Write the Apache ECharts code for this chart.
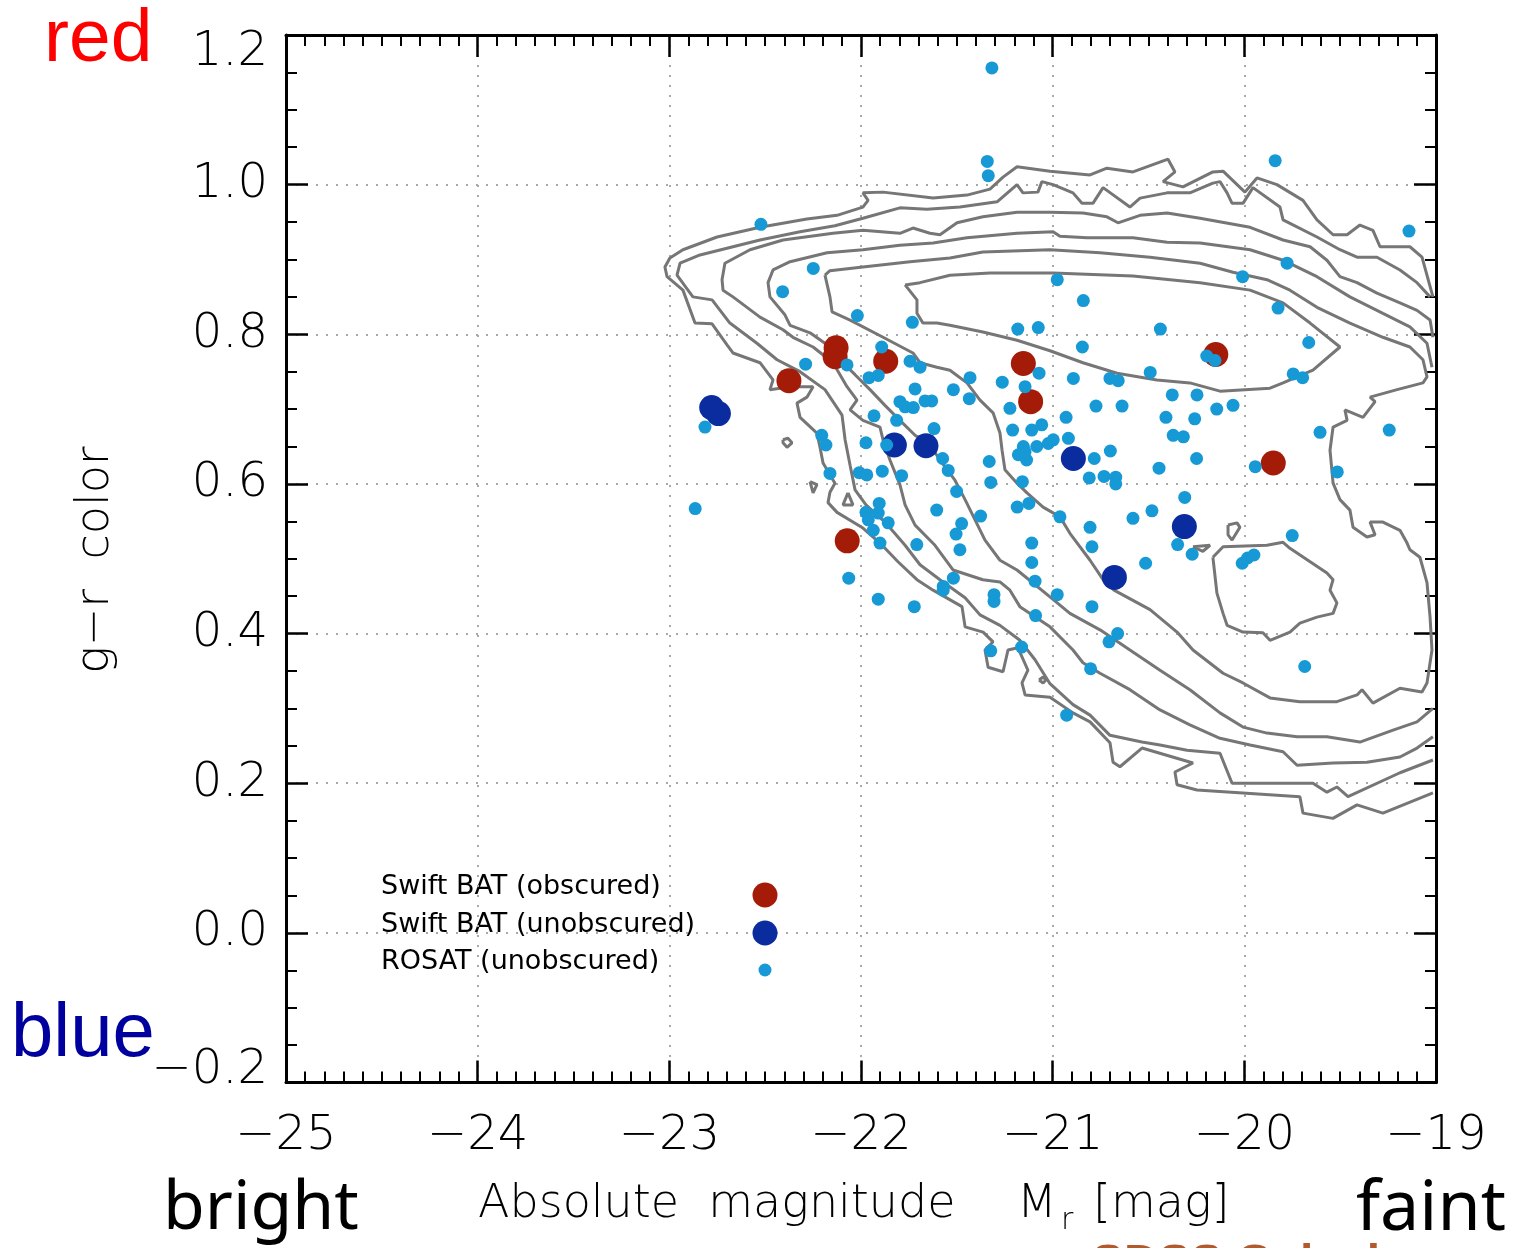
<!DOCTYPE html>
<html>
<head>
<meta charset="utf-8">
<script src="https://cdn.jsdelivr.net/npm/echarts@6/dist/echarts.min.js"></script>
<style>
  html, body { margin: 0; padding: 0; background: #ffffff; }
  #chart { width: 1517px; height: 1248px; }
</style>
</head>
<body>
<div id="chart"></div>
<script>
// Axis ticks: absolute magnitude M_r and g-r colour
const magTicks = [-25, -24, -23, -22, -21, -20, -19];
const colorTicks = [-0.2, 0.0, 0.2, 0.4, 0.6, 0.8, 1.0, 1.2];

// Swift BAT AGN hosts, obscured  [M_r, g-r]
const swiftObscured = [
  [-22.376, 0.738], [-22.130, 0.782], [-22.135, 0.770], [-21.871, 0.764],
  [-21.153, 0.761], [-21.115, 0.710], [-20.149, 0.773], [-19.849, 0.628],
  [-22.072, 0.524]
];

// Swift BAT AGN hosts, unobscured  [M_r, g-r]
const swiftUnobscured = [
  [-22.779, 0.702], [-22.744, 0.694], [-21.826, 0.652], [-21.661, 0.651],
  [-20.892, 0.634], [-20.313, 0.543], [-20.678, 0.475]
];

// ROSAT AGN hosts, unobscured  [M_r, g-r]
const rosatUnobscured = [
  [-21.317, 1.156], [-21.341, 1.031], [-21.336, 1.012], [-22.522, 0.947], [-22.249, 0.888],
  [-22.409, 0.857], [-20.976, 0.873], [-20.840, 0.845], [-22.019, 0.825], [-21.732, 0.816],
  [-21.182, 0.807], [-21.075, 0.809], [-20.845, 0.783], [-21.892, 0.783], [-22.289, 0.760],
  [-22.073, 0.759], [-21.744, 0.764], [-21.692, 0.756], [-21.958, 0.742], [-21.910, 0.745],
  [-21.431, 0.742], [-21.263, 0.736], [-21.071, 0.748], [-20.892, 0.741], [-21.144, 0.730],
  [-21.718, 0.727], [-21.518, 0.726], [-21.435, 0.714], [-21.797, 0.710], [-21.770, 0.703],
  [-21.727, 0.702], [-21.666, 0.711], [-21.631, 0.711], [-21.223, 0.701], [-20.774, 0.704],
  [-21.932, 0.691], [-21.814, 0.685], [-20.930, 0.689], [-21.619, 0.674], [-21.209, 0.672],
  [-21.109, 0.672], [-21.057, 0.679], [-22.814, 0.676], [-20.918, 0.661], [-22.205, 0.665],
  [-22.183, 0.652], [-21.974, 0.655], [-21.866, 0.652], [-21.153, 0.650], [-21.179, 0.639],
  [-21.136, 0.632], [-21.144, 0.643], [-21.083, 0.650], [-21.023, 0.654], [-20.997, 0.659],
  [-21.574, 0.634], [-21.545, 0.618], [-21.331, 0.630], [-20.783, 0.634], [-22.162, 0.614],
  [-22.009, 0.615], [-21.970, 0.612], [-21.889, 0.617], [-21.788, 0.611], [-21.323, 0.602],
  [-21.158, 0.603], [-20.809, 0.608], [-21.501, 0.590], [-19.839, 1.032], [-19.141, 0.938],
  [-19.777, 0.895], [-20.009, 0.877], [-19.824, 0.835], [-20.438, 0.807], [-19.664, 0.789],
  [-20.196, 0.771], [-20.153, 0.765], [-20.701, 0.741], [-20.658, 0.738], [-20.491, 0.749],
  [-19.745, 0.747], [-19.696, 0.742], [-20.376, 0.719], [-20.247, 0.719], [-20.638, 0.704],
  [-20.144, 0.700], [-20.059, 0.705], [-20.409, 0.689], [-20.259, 0.687], [-20.371, 0.665],
  [-20.318, 0.663], [-19.605, 0.669], [-19.244, 0.672], [-20.699, 0.644], [-20.249, 0.634],
  [-20.445, 0.621], [-19.943, 0.623], [-19.515, 0.616], [-20.732, 0.610], [-20.671, 0.609],
  [-20.671, 0.600], [-20.311, 0.582], [-20.962, 0.556], [-20.482, 0.564], [-20.581, 0.554],
  [-20.805, 0.542], [-20.795, 0.516], [-20.348, 0.519], [-20.272, 0.506], [-20.515, 0.494],
  [-20.011, 0.494], [-19.983, 0.501], [-19.950, 0.505], [-19.750, 0.531], [-20.976, 0.452],
  [-20.795, 0.436], [-20.661, 0.400], [-20.706, 0.389], [-19.685, 0.356], [-20.802, 0.353],
  [-20.927, 0.291], [-22.865, 0.567], [-21.905, 0.574], [-21.974, 0.562], [-21.910, 0.561],
  [-21.962, 0.552], [-21.936, 0.538], [-21.858, 0.548], [-21.605, 0.565], [-21.475, 0.547],
  [-21.504, 0.533], [-21.376, 0.557], [-21.484, 0.512], [-21.709, 0.519], [-21.901, 0.521],
  [-21.185, 0.569], [-21.124, 0.574], [-21.109, 0.521], [-21.109, 0.495], [-21.092, 0.470],
  [-21.518, 0.474], [-21.571, 0.463], [-21.571, 0.458], [-21.306, 0.452], [-21.306, 0.443],
  [-21.089, 0.424], [-22.064, 0.474], [-21.910, 0.446], [-21.722, 0.436], [-21.323, 0.377],
  [-21.162, 0.382]
];

// SDSS galaxy density contours, outermost level first  [M_r, g-r]
const contourLevel1 = [
  [-19.016, 0.850], [-19.073, 0.903], [-19.136, 0.917], [-19.292, 0.917], [-19.329, 0.939],
  [-19.397, 0.946], [-19.464, 0.933], [-19.537, 0.933], [-19.621, 0.953], [-19.694, 0.979],
  [-19.830, 1.000], [-19.934, 1.009], [-19.997, 0.990], [-20.111, 1.018], [-20.164, 1.017],
  [-20.320, 0.997], [-20.424, 1.004], [-20.362, 1.017], [-20.398, 1.034], [-20.581, 1.017],
  [-20.717, 1.022], [-20.805, 1.013], [-21.014, 1.018], [-21.186, 1.024], [-21.259, 1.010],
  [-21.327, 0.994], [-21.447, 0.986], [-21.624, 0.982], [-21.885, 0.990], [-21.990, 0.989],
  [-21.963, 0.979], [-21.990, 0.970], [-22.125, 0.959], [-22.282, 0.954], [-22.527, 0.943],
  [-22.751, 0.930], [-22.929, 0.913], [-22.997, 0.902], [-23.023, 0.890], [-23.012, 0.877],
  [-22.929, 0.859], [-22.866, 0.815], [-22.777, 0.814], [-22.699, 0.786], [-22.668, 0.775],
  [-22.527, 0.762], [-22.459, 0.739], [-22.475, 0.726], [-22.370, 0.730], [-22.250, 0.730],
  [-22.282, 0.716], [-22.334, 0.708], [-22.318, 0.689], [-22.230, 0.668], [-22.214, 0.649],
  [-22.198, 0.628], [-22.136, 0.601], [-22.162, 0.589], [-22.172, 0.575], [-22.125, 0.562],
  [-21.990, 0.541], [-21.901, 0.521], [-21.807, 0.496], [-21.708, 0.472], [-21.624, 0.458],
  [-21.473, 0.436], [-21.457, 0.409], [-21.363, 0.402], [-21.311, 0.389], [-21.353, 0.378],
  [-21.337, 0.355], [-21.259, 0.349], [-21.233, 0.378], [-21.181, 0.381], [-21.129, 0.351],
  [-21.160, 0.334], [-21.144, 0.318], [-21.014, 0.315], [-20.894, 0.294], [-20.805, 0.282],
  [-20.701, 0.254], [-20.685, 0.228], [-20.649, 0.222], [-20.534, 0.247], [-20.268, 0.227],
  [-20.362, 0.215], [-20.351, 0.198], [-20.247, 0.191], [-19.710, 0.182], [-19.694, 0.160],
  [-19.538, 0.153], [-19.412, 0.171], [-19.277, 0.160], [-19.016, 0.187]
];

const contourLevel2 = [
  [-19.031, 0.850], [-19.099, 0.869], [-19.188, 0.886], [-19.308, 0.903], [-19.412, 0.903],
  [-19.501, 0.913], [-19.621, 0.930], [-19.798, 0.953], [-19.814, 0.970], [-19.955, 0.996],
  [-20.007, 0.975], [-20.064, 0.975], [-20.090, 0.989], [-20.127, 1.004], [-20.164, 1.002],
  [-20.284, 0.989], [-20.403, 0.989], [-20.544, 0.982], [-20.597, 0.970], [-20.737, 0.996],
  [-20.790, 0.975], [-20.847, 0.975], [-20.894, 0.989], [-20.998, 1.000], [-21.056, 1.004],
  [-21.077, 0.990], [-21.155, 0.989], [-21.186, 1.000], [-21.290, 0.977], [-21.484, 0.970],
  [-21.656, 0.967], [-21.797, 0.969], [-21.990, 0.955], [-22.136, 0.945], [-22.318, 0.937],
  [-22.527, 0.926], [-22.668, 0.917], [-22.840, 0.906], [-22.944, 0.895], [-22.960, 0.879],
  [-22.877, 0.850], [-22.777, 0.846], [-22.684, 0.815], [-22.543, 0.788], [-22.438, 0.766],
  [-22.318, 0.750], [-22.188, 0.726], [-22.099, 0.692], [-22.083, 0.659], [-22.057, 0.625],
  [-22.031, 0.592], [-21.974, 0.572], [-21.875, 0.549], [-21.770, 0.518], [-21.692, 0.492],
  [-21.588, 0.472], [-21.457, 0.448], [-21.379, 0.425], [-21.275, 0.411], [-21.171, 0.391],
  [-21.092, 0.365], [-21.014, 0.333], [-20.894, 0.305], [-20.805, 0.291], [-20.701, 0.264],
  [-20.534, 0.255], [-20.440, 0.251], [-20.299, 0.244], [-20.127, 0.240], [-20.064, 0.200],
  [-19.642, 0.200], [-19.569, 0.188], [-19.517, 0.195], [-19.459, 0.182], [-19.188, 0.214],
  [-19.016, 0.231]
];

const contourLevel3 = [
  [-19.016, 0.796], [-19.031, 0.819], [-19.099, 0.832], [-19.188, 0.842], [-19.308, 0.855],
  [-19.412, 0.869], [-19.501, 0.877], [-19.569, 0.899], [-19.657, 0.917], [-19.798, 0.926],
  [-19.970, 0.943], [-20.231, 0.955], [-20.403, 0.962], [-20.544, 0.959], [-20.659, 0.949],
  [-20.717, 0.957], [-20.842, 0.962], [-21.014, 0.963], [-21.186, 0.963], [-21.364, 0.957],
  [-21.499, 0.949], [-21.588, 0.933], [-21.640, 0.935], [-21.729, 0.942], [-21.797, 0.935],
  [-21.990, 0.939], [-22.146, 0.935], [-22.407, 0.926], [-22.579, 0.913], [-22.710, 0.895],
  [-22.725, 0.873], [-22.720, 0.859], [-22.668, 0.850], [-22.527, 0.823], [-22.407, 0.806],
  [-22.355, 0.796], [-22.250, 0.783], [-22.146, 0.762], [-22.073, 0.730], [-22.021, 0.712],
  [-22.057, 0.699], [-21.990, 0.685], [-21.901, 0.676], [-21.885, 0.659], [-21.849, 0.632],
  [-21.797, 0.599], [-21.770, 0.572], [-21.718, 0.545], [-21.614, 0.518], [-21.520, 0.485],
  [-21.364, 0.472], [-21.275, 0.469], [-21.223, 0.458], [-21.171, 0.436], [-21.014, 0.409],
  [-20.894, 0.378], [-20.842, 0.361], [-20.753, 0.347], [-20.597, 0.325], [-20.440, 0.298],
  [-20.284, 0.278], [-20.127, 0.260], [-19.970, 0.251], [-19.798, 0.242], [-19.725, 0.224],
  [-19.537, 0.227], [-19.360, 0.228], [-19.188, 0.235], [-19.099, 0.247], [-19.016, 0.262]
];

const contourLevel4 = [
  [-19.021, 0.756], [-19.047, 0.788], [-19.136, 0.810], [-19.277, 0.828], [-19.449, 0.850],
  [-19.621, 0.877], [-19.798, 0.899], [-19.970, 0.913], [-20.231, 0.922], [-20.403, 0.923],
  [-20.581, 0.929], [-20.821, 0.929], [-20.962, 0.931], [-20.998, 0.937], [-21.186, 0.935],
  [-21.447, 0.929], [-21.624, 0.922], [-21.797, 0.919], [-21.990, 0.913], [-22.177, 0.909],
  [-22.370, 0.897], [-22.459, 0.886], [-22.485, 0.869], [-22.475, 0.850], [-22.397, 0.826],
  [-22.370, 0.812], [-22.266, 0.802], [-22.177, 0.786], [-22.110, 0.766], [-22.031, 0.746],
  [-21.953, 0.726], [-21.875, 0.705], [-21.797, 0.685], [-21.718, 0.665], [-21.640, 0.652],
  [-21.588, 0.632], [-21.510, 0.605], [-21.457, 0.579], [-21.405, 0.552], [-21.353, 0.525],
  [-21.275, 0.498], [-21.186, 0.485], [-21.014, 0.449], [-20.910, 0.427], [-20.753, 0.405],
  [-20.597, 0.378], [-20.440, 0.351], [-20.284, 0.325], [-20.127, 0.294], [-20.007, 0.275],
  [-19.882, 0.267], [-19.725, 0.262], [-19.569, 0.262], [-19.397, 0.255], [-19.224, 0.271],
  [-19.099, 0.282], [-19.016, 0.300]
];

const contourLevel5 = [
  [-22.188, 0.879], [-22.162, 0.850], [-22.151, 0.830], [-22.057, 0.819], [-21.885, 0.796],
  [-21.729, 0.775], [-21.692, 0.762], [-21.604, 0.756], [-21.536, 0.752], [-21.447, 0.735],
  [-21.379, 0.712], [-21.311, 0.695], [-21.275, 0.668], [-21.264, 0.645], [-21.249, 0.619],
  [-21.186, 0.601], [-21.134, 0.588], [-21.050, 0.569], [-20.962, 0.556], [-20.910, 0.534],
  [-20.805, 0.498], [-20.737, 0.472], [-20.680, 0.458], [-20.492, 0.432], [-20.351, 0.402],
  [-20.268, 0.378], [-20.111, 0.347], [-20.007, 0.334], [-19.866, 0.314], [-19.710, 0.309],
  [-19.517, 0.309], [-19.412, 0.318], [-19.386, 0.325], [-19.329, 0.307], [-19.188, 0.327],
  [-19.073, 0.322], [-19.047, 0.334], [-19.021, 0.378], [-19.031, 0.422], [-19.047, 0.468],
  [-19.084, 0.502], [-19.136, 0.512], [-19.151, 0.521], [-19.188, 0.538], [-19.277, 0.549],
  [-19.344, 0.549], [-19.318, 0.532], [-19.360, 0.529], [-19.433, 0.542], [-19.449, 0.565],
  [-19.501, 0.579], [-19.537, 0.601], [-19.553, 0.645], [-19.537, 0.676], [-19.464, 0.685],
  [-19.475, 0.699], [-19.381, 0.689], [-19.318, 0.710], [-19.344, 0.716], [-19.203, 0.726],
  [-19.068, 0.735], [-19.047, 0.743], [-19.068, 0.766], [-19.136, 0.783], [-19.277, 0.796],
  [-19.449, 0.815], [-19.621, 0.836], [-19.762, 0.859], [-19.882, 0.873], [-20.059, 0.883],
  [-20.231, 0.895], [-20.492, 0.903], [-20.753, 0.909], [-21.014, 0.913], [-21.364, 0.910],
  [-21.536, 0.902], [-21.744, 0.897], [-21.990, 0.890], [-22.162, 0.885], [-22.188, 0.879]
];

const contourLevel6 = [
  [-21.770, 0.866], [-21.692, 0.869], [-21.536, 0.879], [-21.327, 0.882], [-20.998, 0.882],
  [-20.581, 0.878], [-20.231, 0.869], [-19.970, 0.859], [-19.798, 0.842], [-19.657, 0.815],
  [-19.501, 0.783], [-19.642, 0.752], [-19.798, 0.735], [-19.866, 0.728], [-20.127, 0.724],
  [-20.284, 0.735], [-20.456, 0.739], [-20.664, 0.748], [-20.842, 0.762], [-21.014, 0.778],
  [-21.186, 0.792], [-21.364, 0.803], [-21.536, 0.812], [-21.604, 0.815], [-21.677, 0.815],
  [-21.708, 0.828], [-21.708, 0.846], [-21.770, 0.866]
];

// Isolated closed contour pieces
const contourBlueBlob = [
  [-20.164, 0.502], [-20.111, 0.516], [-19.882, 0.518], [-19.798, 0.522], [-19.762, 0.514],
  [-19.569, 0.481], [-19.537, 0.472], [-19.553, 0.458], [-19.517, 0.441], [-19.537, 0.427],
  [-19.621, 0.422], [-19.710, 0.414], [-19.762, 0.402], [-19.866, 0.391], [-19.903, 0.401],
  [-20.007, 0.402], [-20.090, 0.411], [-20.111, 0.427], [-20.143, 0.454], [-20.164, 0.502]
];
const contourIslandA = [[-20.085, 0.545], [-20.038, 0.548], [-20.023, 0.542], [-20.064, 0.525], [-20.085, 0.532], [-20.085, 0.545]];
const contourIslandB = [[-20.268, 0.516], [-20.179, 0.518], [-20.216, 0.510], [-20.268, 0.516]];
const contourIslandC = [[-22.266, 0.603], [-22.230, 0.599], [-22.250, 0.588], [-22.266, 0.603]];
const contourIslandD = [[-22.068, 0.588], [-22.042, 0.572], [-22.094, 0.572], [-22.068, 0.588]];
const contourIslandE = [[-22.407, 0.659], [-22.381, 0.661], [-22.360, 0.655], [-22.386, 0.649], [-22.407, 0.655], [-22.407, 0.659]];
const contourIslandF = [[-21.071, 0.338], [-21.050, 0.342], [-21.035, 0.338], [-21.050, 0.334], [-21.071, 0.338]];

// ---------------------------------------------------------------------------
const COL_OBSCURED = '#a41b07';
const COL_UNOBSCURED = '#0a2c9f';
const COL_ROSAT = '#1699d5';
const COL_CONTOUR = '#767676';
const TICK_FONT = '"DejaVu Sans", "Liberation Sans", sans-serif';
const TICK_WEIGHT = 300;
const LABEL_COLOR = '#000000';

function signed(v, digits) {
  if (Math.abs(v) < 1e-9) v = 0;
  const s = Math.abs(v).toFixed(digits);
  return (v < 0 ? '\u2212' : '') + s;
}

function contourSeries(data) {
  return {
    type: 'line',
    data: data,
    xAxisIndex: 0,
    yAxisIndex: 0,
    showSymbol: false,
    symbol: 'none',
    silent: true,
    clip: true,
    z: 2,
    lineStyle: { color: COL_CONTOUR, width: 3 },
    animation: false
  };
}

const frameTick = { show: true, inside: true, length: 22, lineStyle: { color: '#000', width: 2.5 } };
const frameLine = { show: true, onZero: false, lineStyle: { color: '#000', width: 3 } };
const gridDots = { show: true, lineStyle: { color: '#a8a8a8', width: 2, type: [2, 8] } };

const magRange = { min: magTicks[0], max: magTicks[magTicks.length - 1], interval: magTicks[1] - magTicks[0] };
const colRange = { min: colorTicks[0], max: colorTicks[colorTicks.length - 1], interval: 0.2 };

const tickText = { fontSize: 48, fontFamily: TICK_FONT, fontWeight: TICK_WEIGHT, color: LABEL_COLOR };

const chart = echarts.init(document.getElementById('chart'), null, { renderer: 'canvas' });

const option = {
  animation: false,
  backgroundColor: '#ffffff',
  grid: { left: 286, top: 35, width: 1150, height: 1047.5, containLabel: false },
  xAxis: [
    {
      type: 'value', position: 'bottom', ...magRange,
      axisLine: frameLine, axisTick: frameTick,
      minorTick: { show: true, splitNumber: 10, length: 11, lineStyle: { color: '#000', width: 2 } },
      splitLine: gridDots,
      axisLabel: Object.assign({
        show: true, margin: 30, showMinLabel: true, showMaxLabel: true,
        formatter: (v) => signed(v, 0)
      }, tickText)
    },
    {
      type: 'value', position: 'top', ...magRange,
      axisLine: frameLine, axisTick: frameTick,
      minorTick: { show: true, splitNumber: 10, length: 11, lineStyle: { color: '#000', width: 2 } },
      splitLine: { show: false }, axisLabel: { show: false }
    }
  ],
  yAxis: [
    {
      type: 'value', position: 'left', ...colRange,
      axisLine: frameLine, axisTick: frameTick,
      minorTick: { show: true, splitNumber: 4, length: 11, lineStyle: { color: '#000', width: 2 } },
      splitLine: gridDots,
      axisLabel: Object.assign({
        show: true, margin: 18, showMinLabel: true, showMaxLabel: true,
        // the end labels sit just inside the frame
        formatter: (v) => {
          const s = signed(v, 1);
          if (Math.abs(v - colRange.max) < 1e-6) return '{hi|' + s + '}';
          if (Math.abs(v - colRange.min) < 1e-6) return '{lo|' + s + '}';
          return s;
        },
        rich: {
          hi: Object.assign({ padding: [36, 0, 0, 0] }, tickText),
          lo: Object.assign({ padding: [0, 0, 24, 0] }, tickText)
        }
      }, tickText)
    },
    {
      type: 'value', position: 'right', ...colRange,
      axisLine: frameLine, axisTick: frameTick,
      minorTick: { show: true, splitNumber: 4, length: 11, lineStyle: { color: '#000', width: 2 } },
      splitLine: { show: false }, axisLabel: { show: false }
    }
  ],
  series: [
    contourSeries(contourLevel1),
    contourSeries(contourLevel2),
    contourSeries(contourLevel3),
    contourSeries(contourLevel4),
    contourSeries(contourLevel5),
    contourSeries(contourLevel6),
    contourSeries(contourBlueBlob),
    contourSeries(contourIslandA),
    contourSeries(contourIslandB),
    contourSeries(contourIslandC),
    contourSeries(contourIslandD),
    contourSeries(contourIslandE),
    contourSeries(contourIslandF),
    {
      name: 'Swift BAT (obscured)', type: 'scatter', data: swiftObscured,
      symbol: 'circle', symbolSize: 25, z: 4,
      itemStyle: { color: COL_OBSCURED, opacity: 1 }, silent: true
    },
    {
      name: 'Swift BAT (unobscured)', type: 'scatter', data: swiftUnobscured,
      symbol: 'circle', symbolSize: 25, z: 4,
      itemStyle: { color: COL_UNOBSCURED, opacity: 1 }, silent: true
    },
    {
      name: 'ROSAT (unobscured)', type: 'scatter', data: rosatUnobscured,
      symbol: 'circle', symbolSize: 13, z: 5,
      itemStyle: { color: COL_ROSAT, opacity: 1 }, silent: true
    }
  ],
  graphic: {
    elements: [
      // colour / brightness annotations
      { type: 'text', x: 44, y: 40, silent: true,
        style: { text: 'red', fill: '#ff0000', fontSize: 75, fontFamily: '"Liberation Sans", Arial, sans-serif', align: 'left', verticalAlign: 'middle' } },
      { type: 'text', x: 11, y: 1035, silent: true,
        style: { text: 'blue', fill: '#00009e', fontSize: 76, fontFamily: '"Liberation Sans", Arial, sans-serif', align: 'left', verticalAlign: 'middle' } },
      { type: 'text', x: 163, y: 1210, silent: true,
        style: { text: 'bright', fill: '#000', fontSize: 68, fontFamily: '"Noto Sans", "Open Sans", sans-serif', align: 'left', verticalAlign: 'middle' } },
      { type: 'text', x: 1356, y: 1210, silent: true,
        style: { text: 'faint', fill: '#000', fontSize: 70, fontFamily: '"Noto Sans", "Open Sans", sans-serif', align: 'left', verticalAlign: 'middle' } },
      { type: 'text', x: 1092, y: 1265, silent: true,
        style: { text: 'SDSS Galaxies', fill: '#b4592c', fontSize: 48, fontWeight: 'bold', fontFamily: '"Liberation Sans", Arial, sans-serif', align: 'left', verticalAlign: 'middle' } },

      // axis titles
      { type: 'text', x: 96, y: 560, rotation: Math.PI / 2, silent: true,
        style: { text: 'g\u2212r  color', fill: LABEL_COLOR, fontSize: 46, fontWeight: TICK_WEIGHT, fontFamily: TICK_FONT, align: 'center', verticalAlign: 'middle' } },
      { type: 'text', x: 478, y: 1205, silent: true,
        style: { text: 'Absolute  magnitude', fill: LABEL_COLOR, fontSize: 46, fontWeight: TICK_WEIGHT, fontFamily: TICK_FONT, align: 'left', verticalAlign: 'middle' } },
      { type: 'text', x: 1017, y: 1205, silent: true,
        style: { text: 'M', fill: LABEL_COLOR, fontSize: 46, fontWeight: TICK_WEIGHT, fontFamily: TICK_FONT, align: 'left', verticalAlign: 'middle' } },
      { type: 'text', x: 1061, y: 1221, silent: true,
        style: { text: 'r', fill: LABEL_COLOR, fontSize: 30, fontWeight: TICK_WEIGHT, fontFamily: TICK_FONT, align: 'left', verticalAlign: 'middle' } },
      { type: 'text', x: 1093, y: 1205, silent: true,
        style: { text: '[mag]', fill: LABEL_COLOR, fontSize: 46, fontWeight: TICK_WEIGHT, fontFamily: TICK_FONT, align: 'left', verticalAlign: 'middle' } },

      // legend
      { type: 'text', x: 381, y: 887, silent: true,
        style: { text: 'Swift BAT (obscured)', fill: '#000', fontSize: 27, fontFamily: TICK_FONT, align: 'left', verticalAlign: 'middle' } },
      { type: 'text', x: 381, y: 925, silent: true,
        style: { text: 'Swift BAT (unobscured)', fill: '#000', fontSize: 27, fontFamily: TICK_FONT, align: 'left', verticalAlign: 'middle' } },
      { type: 'text', x: 381, y: 962, silent: true,
        style: { text: 'ROSAT (unobscured)', fill: '#000', fontSize: 27, fontFamily: TICK_FONT, align: 'left', verticalAlign: 'middle' } },
      { type: 'circle', shape: { cx: 765, cy: 895, r: 12.5 }, style: { fill: COL_OBSCURED }, silent: true, z: 10 },
      { type: 'circle', shape: { cx: 765, cy: 933, r: 12.5 }, style: { fill: COL_UNOBSCURED }, silent: true, z: 10 },
      { type: 'circle', shape: { cx: 765, cy: 970, r: 6.5 }, style: { fill: COL_ROSAT }, silent: true, z: 10 }
    ]
  }
};

chart.setOption(option);
</script>
</body>
</html>
